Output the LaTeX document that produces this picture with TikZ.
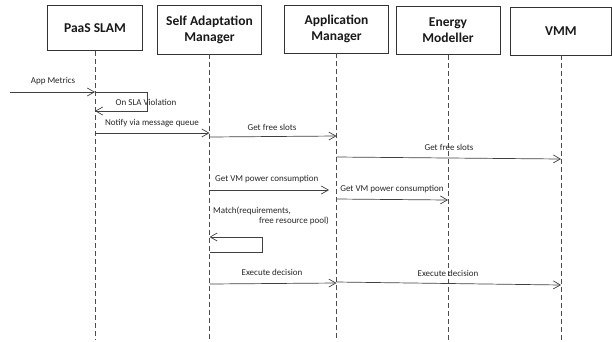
\documentclass[tikz,border=0pt]{standalone}
\usepackage{fontspec}
\setmainfont{Carlito}
\usetikzlibrary{arrows.meta}

\begin{document}
\begin{tikzpicture}[x=1pt,y=-1pt,
  actor/.style={draw=black!80, line width=0.9pt, fill=white, align=center,
    font=\fontsize{13.5}{16}\selectfont\bfseries, text=black!90, inner sep=2pt},
  lifeline/.style={draw=black!70, line width=0.8pt, dash pattern=on 5pt off 3pt},
  msg/.style={draw=black!75, line width=0.7pt, -{Straight Barb[length=7pt,width=8pt]}},
  lbl/.style={font=\fontsize{9}{11}\selectfont, text=black!85, inner sep=0pt},
]
\useasboundingbox (0,0) rectangle (612,341);

% participants
\node[actor, minimum width=95pt, minimum height=45pt] (paas) at (95,28) {PaaS SLAM};
\node[actor, minimum width=104pt, minimum height=49pt] (sam) at (209.5,29.5) {Self Adaptation\\Manager};
\node[actor, minimum width=104pt, minimum height=48pt] (am) at (336.5,29) {Application\\Manager};
\node[actor, minimum width=104pt, minimum height=48pt] (em) at (448,30.5) {Energy\\Modeller};
\node[actor, minimum width=101pt, minimum height=48pt] (vmm) at (561,31) {VMM};

% lifelines
\coordinate (paasEnd) at (paas.south |- 0,340);
\coordinate (samEnd) at (sam.south |- 0,340);
\coordinate (amEnd) at (am.south |- 0,340);
\coordinate (emEnd) at (em.south |- 0,340);
\coordinate (vmmEnd) at (vmm.south |- 0,340);
\draw[lifeline] (paas.south) -- (paasEnd);
\draw[lifeline] (sam.south) -- (samEnd);
\draw[lifeline] (am.south) -- (amEnd);
\draw[lifeline] (em.south) -- (emEnd);
\draw[lifeline] (vmm.south) -- (vmmEnd);

% incoming metrics
\coordinate (src) at (10,92);
\draw[msg] (src) -- (paas.south |- 0,92);
\node[lbl] (l1) at (53,81) {App Metrics};

% SLA violation self call
\draw[msg] (paas.south |- 0,92) -- (147,92) -- (147,111) -- (paas.south |- 0,111);
\node[lbl] (l2) at (146,102) {On SLA Violation};

% notification
\draw[msg] (paas.south |- 0,133) -- (sam.south |- 0,133);
\node[lbl] (l3) at (152,123) {Notify via message queue};

% free slots
\draw[msg] (sam.south |- 0,137) -- (am.south |- 0,136);
\node[lbl] (l4) at (272,127) {Get free slots};
\draw[msg] (am.south |- 0,157) -- (vmm.south |- 0,159);
\node[lbl] (l5) at (449,147) {Get free slots};

% power consumption
\coordinate (amNear) at (329,190);
\draw[msg] (sam.south |- 0,190) -- (amNear);
\node[lbl, anchor=west] (l6) at (215,179) {Get VM power consumption};
\draw[msg] (am.south |- 0,199) -- (em.south |- 0,200);
\node[lbl] (l7) at (392,189) {Get VM power consumption};

% matching self call
\draw[msg] (sam.south |- 0,252) -- (262,252) -- (262,237) -- (sam.south |- 0,237);
\node[lbl, anchor=west] (l8a) at (213,211) {Match(requirements,};
\node[lbl, anchor=east] (l8b) at (329,221) {free resource pool)};

% execution
\draw[msg] (sam.south |- 0,284) -- (am.south |- 0,283);
\node[lbl] (l9) at (272,272) {Execute decision};
\draw[msg] (am.south |- 0,282) -- (vmm.south |- 0,285);
\node[lbl] (l10) at (448,273) {Execute decision};
\end{tikzpicture}
\end{document}
